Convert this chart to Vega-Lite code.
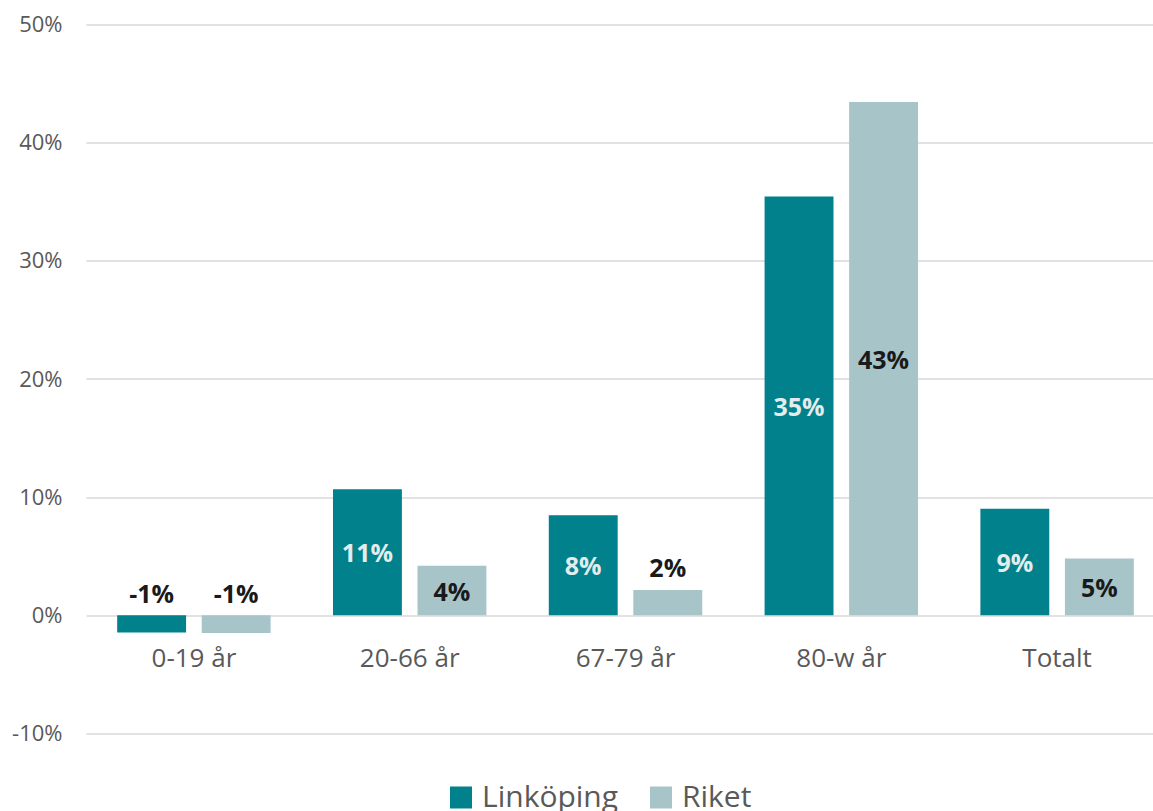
{
  "$schema": "https://vega.github.io/schema/vega-lite/v6.json",
  "autosize": "none",
  "width": 1067,
  "height": 709,
  "padding": {"left": 86, "top": 24.5, "right": 0, "bottom": 78},
  "background": "#ffffff",
  "config": {
    "view": {"stroke": null},
    "font": "Open Sans"
  },
  "data": {
    "values": [
      {"age": "0-19 år", "group": "Linköping", "value": -0.0145},
      {"age": "0-19 år", "group": "Riket", "value": -0.0149},
      {"age": "20-66 år", "group": "Linköping", "value": 0.1066},
      {"age": "20-66 år", "group": "Riket", "value": 0.042},
      {"age": "67-79 år", "group": "Linköping", "value": 0.0846},
      {"age": "67-79 år", "group": "Riket", "value": 0.0214},
      {"age": "80-w år", "group": "Linköping", "value": 0.3545},
      {"age": "80-w år", "group": "Riket", "value": 0.4345},
      {"age": "Totalt", "group": "Linköping", "value": 0.0903},
      {"age": "Totalt", "group": "Riket", "value": 0.0482}
    ]
  },
  "encoding": {
    "x": {
      "field": "age",
      "type": "nominal",
      "sort": null,
      "scale": {"range": [0, 1079], "paddingInner": 0.289, "paddingOuter": 0.1445},
      "axis": {
        "title": null,
        "orient": "bottom",
        "offset": -118,
        "domain": false,
        "ticks": false,
        "labelAngle": 0,
        "labelFont": "Open Sans",
        "labelFontSize": 26,
        "labelColor": "#595959",
        "labelPadding": 30
      }
    },
    "xOffset": {
      "field": "group",
      "type": "nominal",
      "sort": ["Linköping", "Riket"],
      "scale": {"paddingInner": 0.185, "paddingOuter": 0}
    }
  },
  "layer": [
    {
      "mark": {"type": "bar"},
      "encoding": {
        "y": {
          "field": "value",
          "type": "quantitative",
          "scale": {"domain": [-0.1, 0.5], "nice": false, "zero": false},
          "axis": {
            "title": null,
            "values": [-0.1, 0, 0.1, 0.2, 0.3, 0.4, 0.5],
            "format": ".0%",
            "labelExpr": "replace(datum.label, '\u2212', '-')",
            "domain": false,
            "ticks": false,
            "grid": true,
            "gridColor": "#d9d9d9",
            "gridWidth": 1.5,
            "labelFont": "Open Sans",
            "labelFontSize": 22,
            "labelColor": "#595959",
            "labelPadding": 24
          }
        },
        "y2": {"datum": 0},
        "color": {
          "field": "group",
          "type": "nominal",
          "sort": ["Linköping", "Riket"],
          "scale": {"domain": ["Linköping", "Riket"], "range": ["#00818c", "#a7c4c9"]},
          "legend": {
            "title": null,
            "orient": "none",
            "direction": "horizontal",
            "legendX": 360,
            "legendY": 758,
            "padding": 0,
            "symbolType": "square",
            "symbolSize": 484,
            "symbolStrokeWidth": 0,
            "labelFont": "Open Sans",
            "labelFontSize": 30,
            "labelColor": "#595959",
            "labelOffset": 6,
            "columnPadding": 27
          }
        }
      }
    },
    {
      "transform": [
        {"calculate": "abs(datum.value) < 0.03 ? max(datum.value, 0) + 0.0175 : datum.value / 2 - 0.0017", "as": "labelPos"},
        {"calculate": "replace(format(datum.value, '.0%'), '\u2212', '-')", "as": "labelText"}
      ],
      "mark": {"type": "text", "font": "Open Sans", "fontWeight": "bold", "fontSize": 25, "baseline": "middle", "align": "center"},
      "encoding": {
        "y": {"field": "labelPos", "type": "quantitative"},
        "text": {"field": "labelText", "type": "nominal"},
        "color": {
          "condition": {"test": "datum.group === 'Linköping' && abs(datum.value) >= 0.03", "value": "#e4ecec"},
          "value": "#1a1a1a"
        }
      }
    }
  ]
}
